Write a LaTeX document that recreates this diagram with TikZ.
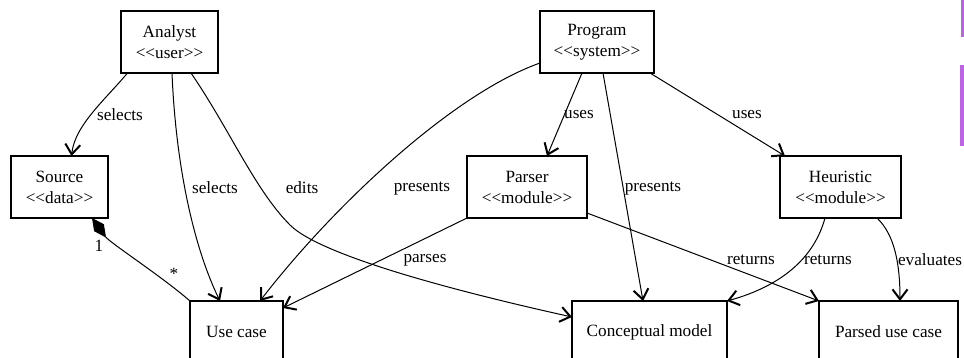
\documentclass[tikz,border=0pt]{standalone}
\usepackage{fontspec}
\setmainfont{Liberation Serif}
\usetikzlibrary{arrows.meta,calc}
\newcommand\stereo[1]{\textless\kern0pt\textless\kern0pt #1\kern0pt\textgreater\kern0pt\textgreater}
\definecolor{barpurple}{RGB}{188,100,228}
\begin{document}
\begin{tikzpicture}[x=1pt,y=-1pt,
  box/.style={draw, line width=1.2pt, minimum height=62pt, inner sep=0pt, outer sep=0pt, align=center, font=\fontsize{17.2}{21}\selectfont},
  lab/.style={font=\fontsize{17.2}{21}\selectfont, inner sep=0pt},
  conn/.style={line width=1pt, -{Straight Barb[length=10pt,width=15pt,line width=2pt]}},
  comp/.style={line width=1pt, {Diamond[length=24pt,width=12pt]}-}
]
\useasboundingbox (0,0) rectangle (964,358);

\node[box, minimum width=97pt]  (analyst)   at (169.5,42)  {Analyst\\\stereo{user}};
\node[box, minimum width=97pt]  (source)    at (59.5,187)  {Source\\\stereo{data}};
\node[box, minimum width=93pt]  (usecase)   at (236.5,332) {Use case};
\node[box, minimum width=114pt] (program)   at (597,42)    {Program\\\stereo{system}};
\node[box, minimum width=120pt] (parser)    at (527,187)   {Parser\\\stereo{module}};
\node[box, minimum width=121pt] (heuristic) at (840.5,187) {Heuristic\\\stereo{module}};
\node[box, minimum width=155pt] (concept)   at (649.5,332) {Conceptual model};
\node[box, minimum width=139pt] (parsed)    at (888.5,332) {Parsed use case};

\draw[conn] ([xshift=-42pt]analyst.south) .. controls (105,100) and (75,125) .. ([xshift=12pt]source.north)
  node[lab] at (120,115) {selects};
\draw[conn] ([xshift=2.5pt]analyst.south) .. controls (176,170) and (195,250) .. ([xshift=-16.5pt]usecase.north)
  node[lab] at (215,188) {selects};
\draw[conn] ([xshift=21.5pt]analyst.south) .. controls (230,130) and (255,190) .. (290,225)
  .. controls (320,255) and (450,290) .. ([yshift=15pt]concept.west)
  node[lab] at (302,188) {edits};

\draw[conn] ([yshift=-21pt]program.west) .. controls (450,95) and (330,210) .. ([xshift=23.5pt]usecase.north)
  node[lab] at (422,188) {presents};
\draw[conn] ([xshift=-15pt]program.south) -- ([xshift=20pt]parser.north)
  node[lab] at (579,115) {uses};
\draw[conn] ([xshift=6pt]program.south) -- ([xshift=-6.5pt]concept.north)
  node[lab] at (653,188) {presents};
\draw[conn] ([xshift=-4pt]program.south east) -- ([xshift=5pt]heuristic.north west)
  node[lab] at (747,115) {uses};

\draw[conn] (parser.south west) -- ([yshift=24pt]usecase.east)
  node[lab] at (425,260) {parses};
\draw[conn] ([yshift=-26pt]parser.east) -- (parsed.north west)
  node[lab] at (751,260) {returns};

\draw[conn] ([xshift=-15.5pt]heuristic.south) .. controls (815,255) and (785,285) .. (concept.north east)
  node[lab] at (828,260) {returns};
\draw[conn] ([xshift=36.5pt]heuristic.south) .. controls (895,235) and (900,265) .. ([xshift=11.5pt]parsed.north)
  node[lab] at (930,260) {evaluates};

\draw[comp] ([xshift=32.5pt]source.south) .. controls (110,243) and (160,275) .. (usecase.north west)
  node[lab] at (99,246) {1}
  node[lab] at (174,274) {*};

\fill[barpurple] (960.5,0) rectangle (964,37);
\fill[barpurple] (960,65) rectangle (964,146);
\end{tikzpicture}
\end{document}
